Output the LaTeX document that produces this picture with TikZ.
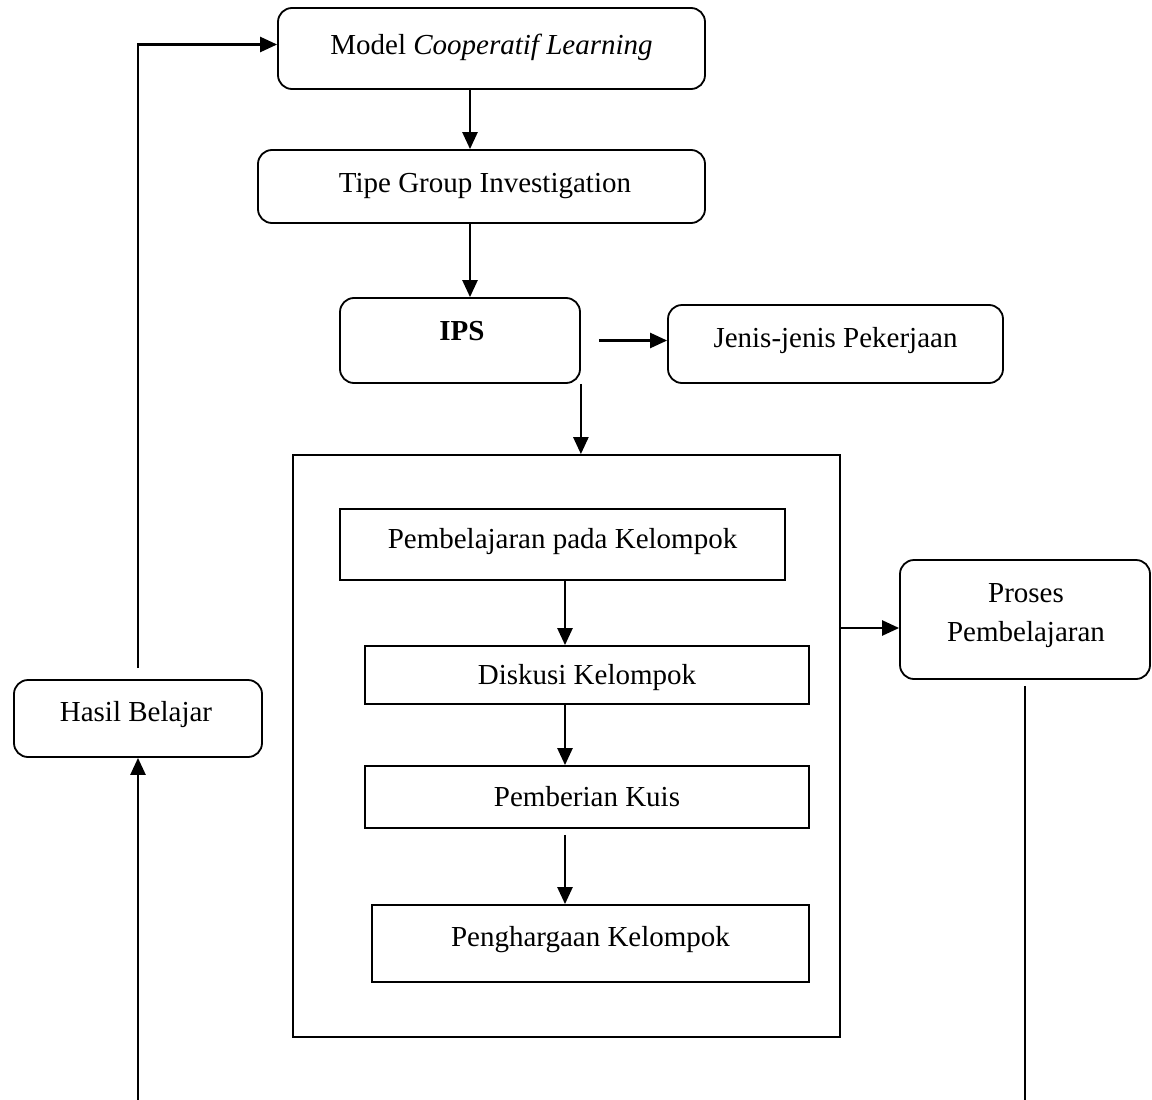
\documentclass[tikz,border=0pt]{standalone}
\usepackage{fontspec}
\setmainfont{Liberation Serif}
\usetikzlibrary{arrows.meta}

\tikzset{
  rbox/.style = {draw, line width = 1.8pt, rounded corners = 14pt, inner sep = 0pt},
  sbox/.style = {draw, line width = 1.8pt, inner sep = 0pt},
  txt/.style = {anchor = base, inner sep = 0pt, font = \fontsize{29}{39}\selectfont},
  arrow/.style = {line width = 2.5pt, -{Triangle[length = 17pt, width = 15pt]}},
  link/.style = {line width = 2.2pt}
}

\begin{document}
\begin{tikzpicture}[x = 1pt, y = -1pt]
  \useasboundingbox (0, 0) rectangle (1152, 1100);

  % boxes
  \node[rbox, minimum width = 427pt, minimum height = 81pt] (model) at (491.5, 48.5) {};
  \node[rbox, minimum width = 447pt, minimum height = 73pt] (tipe) at (481.5, 186.5) {};
  \node[rbox, minimum width = 240pt, minimum height = 85pt] (ips) at (460, 340.5) {};
  \node[rbox, minimum width = 335pt, minimum height = 78pt] (jenis) at (835.5, 344) {};
  \node[sbox, minimum width = 547pt, minimum height = 582pt] (group) at (566.5, 746) {};
  \node[sbox, minimum width = 445pt, minimum height = 71pt] (pkel) at (562.5, 544.5) {};
  \node[sbox, minimum width = 444pt, minimum height = 58pt] (diskusi) at (587, 675) {};
  \node[sbox, minimum width = 444pt, minimum height = 62pt] (kuis) at (587, 797) {};
  \node[sbox, minimum width = 437pt, minimum height = 77pt] (reward) at (590.5, 943.5) {};
  \node[rbox, minimum width = 248pt, minimum height = 77pt] (hasil) at (138, 718.5) {};
  \node[rbox, minimum width = 250pt, minimum height = 119pt] (proses) at (1025, 619.5) {};

  % texts
  \node[txt] (modeltxt) at (491.5, 54) {Model \textit{Cooperatif Learning}};
  \node[txt] (tipetxt) at (485, 192) {Tipe Group Investigation};
  \node[txt] (ipstxt) at (462, 340) {\textbf{IPS}};
  \node[txt] (jenistxt) at (835.5, 347) {Jenis-jenis Pekerjaan};
  \node[txt] (pkeltxt) at (562.5, 548) {Pembelajaran pada Kelompok};
  \node[txt] (diskusitxt) at (587, 684) {Diskusi Kelompok};
  \node[txt] (kuistxt) at (587, 806) {Pemberian Kuis};
  \node[txt] (rewardtxt) at (590.5, 946) {Penghargaan Kelompok};
  \node[txt] (hasiltxt) at (136, 721) {Hasil Belajar};
  \node[txt, anchor = center, align = center] (prosestxt) at (1026, 615.5) {Proses\\Pembelajaran};

  % guide points
  \coordinate (mainline) at (470, 0);
  \coordinate (spine) at (565, 0);
  \coordinate (procin) at (0, 628);
  \coordinate (bottom) at (0, 1100);

  % connectors
  \draw[arrow] (mainline |- model.south) -- (mainline |- tipe.north);
  \draw[arrow] (mainline |- tipe.south) -- (mainline |- ips.north);
  \draw[arrow] ([xshift = 18pt]ips.east) -- (ips.east -| jenis.west);
  \draw[arrow] (ips.south east) -- (ips.south east |- group.north);
  \draw[arrow] (spine |- pkel.south) -- (spine |- diskusi.north);
  \draw[arrow] (spine |- diskusi.south) -- (spine |- kuis.north);
  \draw[arrow] ([yshift = -6pt]spine |- kuis.south) -- (spine |- reward.north);
  \draw[arrow] (group.east |- procin) -- (proses.west |- procin);
  \draw[link] ([yshift = -6pt]proses.south) -- (proses.south |- bottom);
  \draw[arrow] (hasil.south |- bottom) -- (hasil.south);
  \draw[arrow] ([yshift = 11pt]hasil.north) |- ([yshift = 4pt]model.west);
\end{tikzpicture}
\end{document}
